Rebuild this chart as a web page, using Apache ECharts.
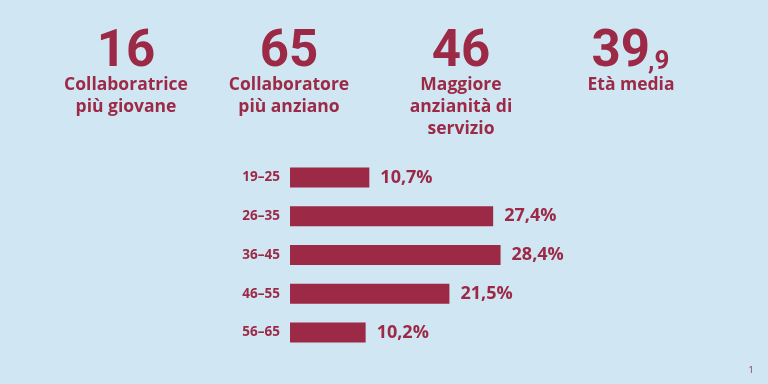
<!DOCTYPE html>
<html><head><meta charset="utf-8">
<script src="https://cdn.jsdelivr.net/npm/echarts@6/dist/echarts.min.js"></script>
<style>html,body{margin:0;padding:0;background:#d0e6f3;}#c{width:768px;height:384px;}</style>
</head><body><div id="c"></div>
<script>
const categories = ['19–25', '26–35', '36–45', '46–55', '56–65'];
const values = [10.7, 27.4, 28.4, 21.5, 10.2];
const statNumbers = ['16', '65', '46', '39'];
const statDecimal = ['', '', '', ',9'];
const statLabels = ['Collaboratrice\npiù giovane', 'Collaboratore\npiù anziano', 'Maggiore\nanzianità di\nservizio', 'Età media'];
const pageNumber = '1';

const RED = '#9c2945';
const NUMFONT = 'Roboto, sans-serif';
const FONT = '"Open Sans", Roboto, sans-serif';
const statX = [126, 289, 461, 631];

const graphics = [];
statNumbers.forEach((n, i) => {
  const hasDec = !!statDecimal[i];
  graphics.push({
    type: 'text', x: hasDec ? 650 : statX[i], y: 53,
    style: {
      text: n, align: hasDec ? 'right' : 'center', verticalAlign: 'middle',
      fontSize: 51, fontWeight: 'bold', fill: RED, fontFamily: NUMFONT
    }
  });
  if (hasDec) {
    graphics.push({
      type: 'text', x: 648, y: 62,
      style: {
        text: statDecimal[i], align: 'left', verticalAlign: 'middle',
        fontSize: 26, fontWeight: 'bold', fill: RED, fontFamily: NUMFONT
      }
    });
  }
  graphics.push({
    type: 'text', x: statX[i], y: 74,
    style: {
      text: statLabels[i], align: 'center', verticalAlign: 'top',
      fontSize: 17.5, fontWeight: 'bold', fill: RED, fontFamily: FONT, lineHeight: 22
    }
  });
});
graphics.push({
  type: 'text', x: 751, y: 370,
  style: { text: pageNumber, align: 'center', verticalAlign: 'middle', fontSize: 9, fill: '#7a3048', fontFamily: FONT }
});

const chart = echarts.init(document.getElementById('c'));
chart.setOption({
  backgroundColor: '#d0e6f3',
  animation: false,
  grid: { left: 290, top: 158, width: 304, height: 194 },
  xAxis: { type: 'value', min: 0, max: 41, show: false },
  yAxis: {
    type: 'category', data: categories, inverse: true,
    axisLine: { show: false }, axisTick: { show: false },
    axisLabel: { color: RED, fontSize: 13.5, fontWeight: 'bold', fontFamily: FONT, margin: 10 }
  },
  series: [{
    type: 'bar', data: values, barWidth: 20,
    itemStyle: { color: RED },
    label: {
      show: true, position: 'right', distance: 11,
      color: RED, fontSize: 18, fontWeight: 'bold', fontFamily: FONT,
      formatter: p => p.value.toFixed(1).replace('.', ',') + '%'
    }
  }],
  graphic: graphics
});
</script></body></html>
